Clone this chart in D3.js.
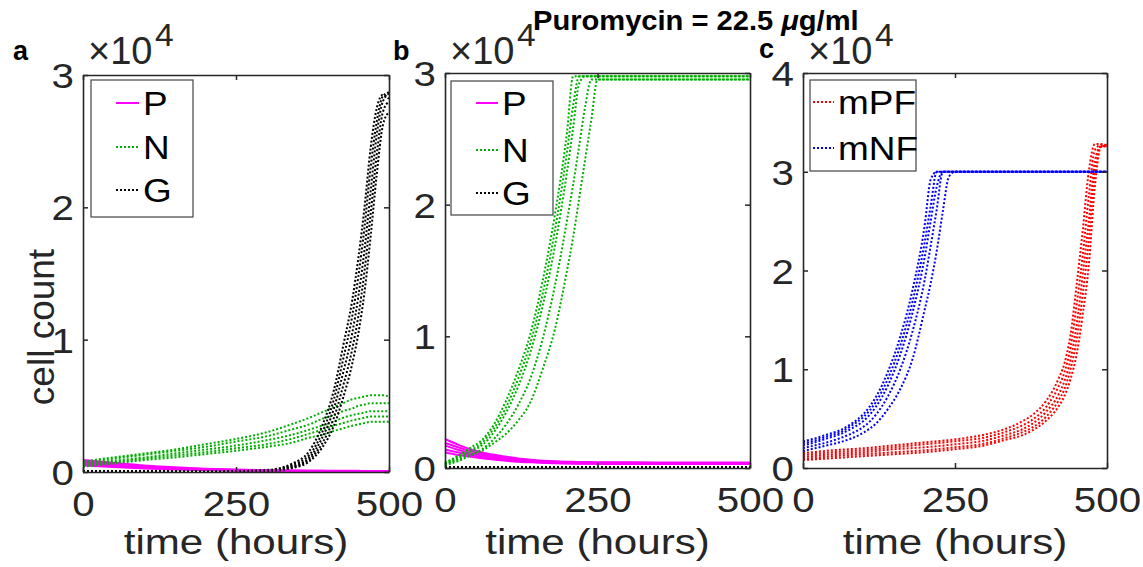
<!DOCTYPE html>
<html>
<head>
<meta charset="utf-8">
<script src="https://cdn.jsdelivr.net/npm/d3@7"></script>
<style>
  body { margin: 0; background: #fff; }
  svg { display: block; }
  text { font-family: "Liberation Sans", Arial, Helvetica, sans-serif; }
</style>
</head>
<body>
<svg id="fig" width="1143" height="567"></svg>
<script>
// ---- data (cell counts in units of 10^4 cells; time in hours) ----
const timeA = [0, 50, 100, 150, 200, 250, 300, 340, 370, 390, 410, 425, 440, 450, 460, 470, 480, 490, 500];
const timeB = [0, 20, 40, 60, 80, 100, 120, 140, 160, 180, 200, 210, 220, 230, 240, 250, 260, 300, 400, 500];
const timeMPF = [0, 50, 100, 150, 200, 250, 300, 330, 360, 380, 400, 420, 430, 440, 450, 460, 470, 480, 490, 500];
const xTicks = [0, 250, 500];
const yTicksAB = [0, 1, 2, 3];
const yTicksC = [0, 1, 2, 3, 4];

// panel a: P, N, G (five runs each)
const aP = [
  [0.090, 0.070, 0.050, 0.035, 0.025, 0.018, 0.013, 0.011, 0.010, 0.010, 0.009, 0.009, 0.009, 0.009, 0.008, 0.008, 0.008, 0.008, 0.008],
  [0.080, 0.060, 0.043, 0.030, 0.021, 0.015, 0.011, 0.010, 0.009, 0.009, 0.008, 0.008, 0.008, 0.008, 0.008, 0.008, 0.008, 0.008, 0.008],
  [0.070, 0.052, 0.037, 0.026, 0.018, 0.013, 0.010, 0.009, 0.008, 0.008, 0.008, 0.007, 0.007, 0.007, 0.007, 0.007, 0.007, 0.007, 0.007],
  [0.060, 0.045, 0.032, 0.022, 0.016, 0.011, 0.009, 0.008, 0.007, 0.007, 0.007, 0.007, 0.007, 0.007, 0.007, 0.007, 0.007, 0.007, 0.007],
  [0.050, 0.038, 0.027, 0.019, 0.013, 0.010, 0.008, 0.007, 0.007, 0.006, 0.006, 0.006, 0.006, 0.006, 0.006, 0.006, 0.006, 0.006, 0.006]
];
const aN = [
  [0.08, 0.11, 0.14, 0.17, 0.21, 0.25, 0.30, 0.36, 0.41, 0.45, 0.49, 0.52, 0.55, 0.56, 0.57, 0.58, 0.58, 0.58, 0.57],
  [0.07, 0.10, 0.13, 0.16, 0.19, 0.23, 0.27, 0.32, 0.36, 0.40, 0.43, 0.46, 0.48, 0.50, 0.51, 0.52, 0.52, 0.52, 0.52],
  [0.06, 0.085, 0.11, 0.14, 0.17, 0.20, 0.24, 0.28, 0.32, 0.35, 0.38, 0.41, 0.43, 0.44, 0.45, 0.46, 0.46, 0.46, 0.46],
  [0.05, 0.075, 0.10, 0.125, 0.15, 0.18, 0.21, 0.25, 0.29, 0.32, 0.35, 0.37, 0.39, 0.40, 0.41, 0.42, 0.42, 0.42, 0.42],
  [0.04, 0.065, 0.09, 0.11, 0.135, 0.16, 0.19, 0.22, 0.26, 0.28, 0.31, 0.33, 0.35, 0.36, 0.37, 0.38, 0.38, 0.38, 0.38]
];
const aG = [
  [0.006, 0.006, 0.006, 0.006, 0.006, 0.008, 0.015, 0.060, 0.16, 0.34, 0.62, 0.95, 1.30, 1.62, 2.00, 2.45, 2.75, 2.85, 2.82],
  [0.005, 0.005, 0.005, 0.005, 0.005, 0.007, 0.012, 0.050, 0.13, 0.29, 0.55, 0.85, 1.18, 1.48, 1.85, 2.30, 2.65, 2.84, 2.87],
  [0.005, 0.005, 0.005, 0.005, 0.005, 0.006, 0.010, 0.040, 0.11, 0.25, 0.48, 0.75, 1.05, 1.33, 1.68, 2.12, 2.55, 2.80, 2.86],
  [0.004, 0.004, 0.004, 0.004, 0.004, 0.005, 0.008, 0.035, 0.095, 0.21, 0.41, 0.65, 0.93, 1.18, 1.52, 1.95, 2.40, 2.72, 2.80],
  [0.004, 0.004, 0.004, 0.004, 0.004, 0.005, 0.006, 0.028, 0.08, 0.18, 0.35, 0.56, 0.82, 1.05, 1.36, 1.78, 2.25, 2.62, 2.72]
];

// panel b: P, N, G
const bP = [
  [0.22, 0.18, 0.145, 0.12, 0.10, 0.085, 0.072, 0.063, 0.056, 0.051, 0.048, 0.047, 0.046, 0.045, 0.045, 0.044, 0.044, 0.043, 0.042, 0.042],
  [0.19, 0.16, 0.13, 0.107, 0.090, 0.077, 0.066, 0.057, 0.051, 0.047, 0.044, 0.043, 0.042, 0.041, 0.041, 0.040, 0.040, 0.039, 0.038, 0.038],
  [0.17, 0.14, 0.115, 0.095, 0.080, 0.068, 0.058, 0.051, 0.046, 0.042, 0.040, 0.039, 0.038, 0.038, 0.037, 0.037, 0.036, 0.036, 0.035, 0.035],
  [0.14, 0.12, 0.10, 0.084, 0.071, 0.061, 0.053, 0.047, 0.042, 0.039, 0.037, 0.036, 0.035, 0.035, 0.034, 0.034, 0.034, 0.033, 0.033, 0.033],
  [0.12, 0.10, 0.087, 0.074, 0.064, 0.055, 0.048, 0.043, 0.039, 0.036, 0.034, 0.033, 0.033, 0.032, 0.032, 0.032, 0.031, 0.031, 0.030, 0.030]
];
const bN = [
  [0.04, 0.09, 0.15, 0.21, 0.33, 0.51, 0.74, 1.02, 1.42, 1.92, 2.55, 2.975, 2.975, 2.975, 2.975, 2.975, 2.975, 2.975, 2.975, 2.975],
  [0.04, 0.08, 0.13, 0.19, 0.30, 0.46, 0.68, 0.95, 1.32, 1.80, 2.40, 2.75, 2.975, 2.975, 2.975, 2.975, 2.975, 2.975, 2.975, 2.975],
  [0.03, 0.07, 0.12, 0.17, 0.27, 0.42, 0.62, 0.88, 1.23, 1.68, 2.25, 2.58, 2.92, 2.975, 2.975, 2.975, 2.975, 2.975, 2.975, 2.975],
  [0.03, 0.06, 0.10, 0.14, 0.22, 0.33, 0.48, 0.68, 0.98, 1.38, 1.88, 2.15, 2.45, 2.75, 2.95, 2.95, 2.95, 2.95, 2.95, 2.95],
  [0.02, 0.05, 0.09, 0.13, 0.19, 0.26, 0.36, 0.50, 0.75, 1.05, 1.50, 1.75, 2.05, 2.35, 2.65, 2.95, 2.95, 2.95, 2.95, 2.95]
];
const bG = [
  [0.008, 0.008, 0.008, 0.008, 0.008, 0.008, 0.008, 0.008, 0.008, 0.008, 0.008, 0.008, 0.008, 0.008, 0.008, 0.008, 0.008, 0.008, 0.008, 0.008],
  [0.007, 0.007, 0.007, 0.007, 0.007, 0.007, 0.007, 0.007, 0.007, 0.007, 0.007, 0.007, 0.007, 0.007, 0.007, 0.007, 0.007, 0.007, 0.007, 0.007],
  [0.006, 0.006, 0.006, 0.006, 0.006, 0.006, 0.006, 0.006, 0.006, 0.006, 0.006, 0.006, 0.006, 0.006, 0.006, 0.006, 0.006, 0.006, 0.006, 0.006],
  [0.005, 0.005, 0.005, 0.005, 0.005, 0.005, 0.005, 0.005, 0.005, 0.005, 0.005, 0.005, 0.005, 0.005, 0.005, 0.005, 0.005, 0.005, 0.005, 0.005],
  [0.004, 0.004, 0.004, 0.004, 0.004, 0.004, 0.004, 0.004, 0.004, 0.004, 0.004, 0.004, 0.004, 0.004, 0.004, 0.004, 0.004, 0.004, 0.004, 0.004]
];

// panel c: mPF (sampled on timeMPF), mNF (sampled on timeB)
const cMPF = [
  [0.15, 0.18, 0.20, 0.23, 0.26, 0.29, 0.34, 0.39, 0.47, 0.55, 0.68, 0.90, 1.06, 1.35, 1.85, 2.40, 3.00, 3.28, 3.28, 3.27],
  [0.13, 0.16, 0.18, 0.21, 0.24, 0.27, 0.31, 0.36, 0.43, 0.50, 0.62, 0.82, 0.97, 1.22, 1.65, 2.15, 2.75, 3.22, 3.27, 3.27],
  [0.11, 0.14, 0.16, 0.19, 0.21, 0.24, 0.28, 0.33, 0.39, 0.46, 0.57, 0.74, 0.88, 1.10, 1.45, 1.95, 2.50, 3.10, 3.26, 3.26],
  [0.09, 0.12, 0.14, 0.16, 0.18, 0.21, 0.25, 0.30, 0.36, 0.42, 0.52, 0.68, 0.80, 1.00, 1.30, 1.75, 2.30, 3.00, 3.25, 3.26],
  [0.08, 0.10, 0.12, 0.14, 0.16, 0.19, 0.23, 0.28, 0.33, 0.39, 0.48, 0.62, 0.73, 0.90, 1.15, 1.55, 2.05, 2.85, 3.25, 3.26]
];
const cMNF = [
  [0.27, 0.30, 0.34, 0.38, 0.45, 0.55, 0.72, 0.98, 1.33, 1.80, 2.45, 2.92, 3.0, 3.0, 3.0, 3.0, 3.0, 3.0, 3.0, 3.0],
  [0.25, 0.28, 0.32, 0.36, 0.43, 0.52, 0.67, 0.91, 1.24, 1.68, 2.28, 2.65, 3.0, 3.0, 3.0, 3.0, 3.0, 3.0, 3.0, 3.0],
  [0.23, 0.26, 0.30, 0.34, 0.40, 0.48, 0.62, 0.84, 1.15, 1.57, 2.13, 2.50, 2.85, 3.0, 3.0, 3.0, 3.0, 3.0, 3.0, 3.0],
  [0.20, 0.23, 0.26, 0.30, 0.35, 0.42, 0.54, 0.73, 1.00, 1.38, 1.90, 2.25, 2.62, 3.0, 3.0, 3.0, 3.0, 3.0, 3.0, 3.0],
  [0.17, 0.20, 0.23, 0.26, 0.30, 0.36, 0.45, 0.60, 0.80, 1.10, 1.60, 1.87, 2.20, 2.60, 2.95, 3.0, 3.0, 3.0, 3.0, 3.0]
];

// ---- styling ----
const AXIS = "#262626";
const C_P = "#ff00ff", C_N = "#00b000", C_G = "#000000", C_MPF = "#ff0000", C_MNF = "#0000ff";
const DOT = "2,2";
const STRETCH = 1.12;

const svg = d3.select("#fig");

function label(x, y, str, size, opts = {}) {
  return svg.append("text")
    .attr("transform", `translate(${x},${y}) scale(${opts.sx ?? STRETCH},1)`)
    .attr("text-anchor", opts.anchor || "start")
    .attr("font-size", size)
    .attr("font-weight", opts.weight || "normal")
    .attr("fill", opts.fill || AXIS)
    .text(str);
}

const panels = [
  {
    id: "a", left: 83, right: 389, top: 75, bottom: 472, yMax: 3, yTicks: yTicksAB,
    series: [
      { time: timeA, runs: aP, color: C_P, dash: null },
      { time: timeA, runs: aN, color: C_N, dash: DOT },
      { time: timeA, runs: aG, color: C_G, dash: DOT }
    ],
    legend: { x0: 91, y0: 80, x1: 193, y1: 217, lx0: 116, lx1: 139, tx: 143,
      rows: [["P", C_P, null, 103], ["N", C_N, DOT, 147], ["G", C_G, DOT, 190]] },
    tag: [13, 60], ylabel: true
  },
  {
    id: "b", left: 445, right: 750, top: 73, bottom: 468, yMax: 3, yTicks: yTicksAB,
    series: [
      { time: timeB, runs: bP, color: C_P, dash: null },
      { time: timeB, runs: bN, color: C_N, dash: DOT },
      { time: timeB, runs: bG, color: C_G, dash: DOT }
    ],
    legend: { x0: 451, y0: 81, x1: 553, y1: 215, lx0: 476, lx1: 498, tx: 502,
      rows: [["P", C_P, null, 103], ["N", C_N, DOT, 150], ["G", C_G, DOT, 193]] },
    tag: [393, 60]
  },
  {
    id: "c", left: 803, right: 1107, top: 73, bottom: 468, yMax: 4, yTicks: yTicksC,
    series: [
      { time: timeMPF, runs: cMPF, color: C_MPF, dash: DOT },
      { time: timeB, runs: cMNF, color: C_MNF, dash: DOT }
    ],
    legend: { x0: 810, y0: 80, x1: 916, y1: 171, lx0: 813, lx1: 834, tx: 838,
      rows: [["mPF", C_MPF, DOT, 102], ["mNF", C_MNF, DOT, 148]] },
    tag: [759, 58]
  }
];

panels.forEach(p => {
  const x = d3.scaleLinear().domain([0, 500]).range([p.left, p.right]);
  const y = d3.scaleLinear().domain([0, p.yMax]).range([p.bottom, p.top]);
  const g = svg.append("g");

  // curves
  p.series.forEach(s => {
    const line = d3.line()
      .x((d, i) => x(s.time[i]))
      .y(d => y(d))
      .curve(d3.curveMonotoneX);
    s.runs.forEach(run => {
      g.append("path")
        .datum(run)
        .attr("d", line)
        .attr("fill", "none")
        .attr("stroke", s.color)
        .attr("stroke-width", 2)
        .attr("stroke-dasharray", s.dash);
    });
  });

  // axes (inward ticks on all four sides)
  const styleAxis = sel => {
    sel.selectAll("path.domain").attr("stroke", AXIS).attr("stroke-width", 1.6);
    sel.selectAll(".tick line").attr("stroke", AXIS).attr("stroke-width", 1.5);
    sel.selectAll(".tick text")
      .attr("fill", AXIS)
      .attr("font-size", 36)
      .attr("font-family", '"Liberation Sans", Arial, sans-serif');
  };
  const bottomAxis = g.append("g").attr("transform", `translate(0,${p.bottom})`)
    .call(d3.axisBottom(x).tickValues(xTicks).tickSize(-5).tickSizeOuter(0).tickPadding(18))
    .call(styleAxis);
  bottomAxis.selectAll(".tick text").attr("transform", `scale(${STRETCH},1)`);
  g.append("g").attr("transform", `translate(0,${p.top})`)
    .call(d3.axisTop(x).tickValues(xTicks).tickSize(-5).tickSizeOuter(0).tickFormat(""))
    .call(styleAxis);
  const leftAxis = g.append("g").attr("transform", `translate(${p.left},0)`)
    .call(d3.axisLeft(y).tickValues(p.yTicks).tickSize(-5).tickSizeOuter(0).tickPadding(8).tickFormat(d3.format("d")))
    .call(styleAxis);
  leftAxis.selectAll(".tick text").attr("transform", `scale(${STRETCH},1)`).attr("dy", "0.35em");
  g.append("g").attr("transform", `translate(${p.right},0)`)
    .call(d3.axisRight(y).tickValues(p.yTicks).tickSize(-5).tickSizeOuter(0).tickFormat(""))
    .call(styleAxis);

  // exponent marker
  label(p.left + 5, 64, "\u00d710", 38, { sx: 1 });
  label(p.left + 72, 46, "4", 32, { sx: 1.05 });

  // x axis title
  label((p.left + p.right) / 2, 554, "time (hours)", 36, { anchor: "middle", sx: 1.17 });

  // panel tag
  label(p.tag[0], p.tag[1], p.id, 27, { weight: "bold", fill: "#000", sx: 1 });

  // legend
  const L = p.legend;
  g.append("rect")
    .attr("x", L.x0).attr("y", L.y0)
    .attr("width", L.x1 - L.x0).attr("height", L.y1 - L.y0)
    .attr("fill", "#fff").attr("stroke", "#444").attr("stroke-width", 1.2);
  L.rows.forEach(([name, color, dash, cy]) => {
    g.append("line")
      .attr("x1", L.lx0).attr("x2", L.lx1).attr("y1", cy).attr("y2", cy)
      .attr("stroke", color).attr("stroke-width", 2).attr("stroke-dasharray", dash);
    label(L.tx, cy + 12, name, 33, { fill: "#000", sx: 1.12 });
  });

  if (p.ylabel) {
    svg.append("text")
      .attr("transform", `translate(54,327) rotate(-90)`)
      .attr("text-anchor", "middle")
      .attr("font-size", 37)
      .attr("fill", AXIS)
      .text("cell count");
  }
});

// figure title
const title = svg.append("text")
  .attr("transform", "translate(533,30) scale(1.04,1)")
  .attr("font-size", 28)
  .attr("font-weight", "bold")
  .attr("fill", "#000");
title.append("tspan").text("Puromycin = 22.5 ");
title.append("tspan").attr("font-style", "italic").text("\u03bc");
title.append("tspan").text("g/ml");
</script>
</body>
</html>
